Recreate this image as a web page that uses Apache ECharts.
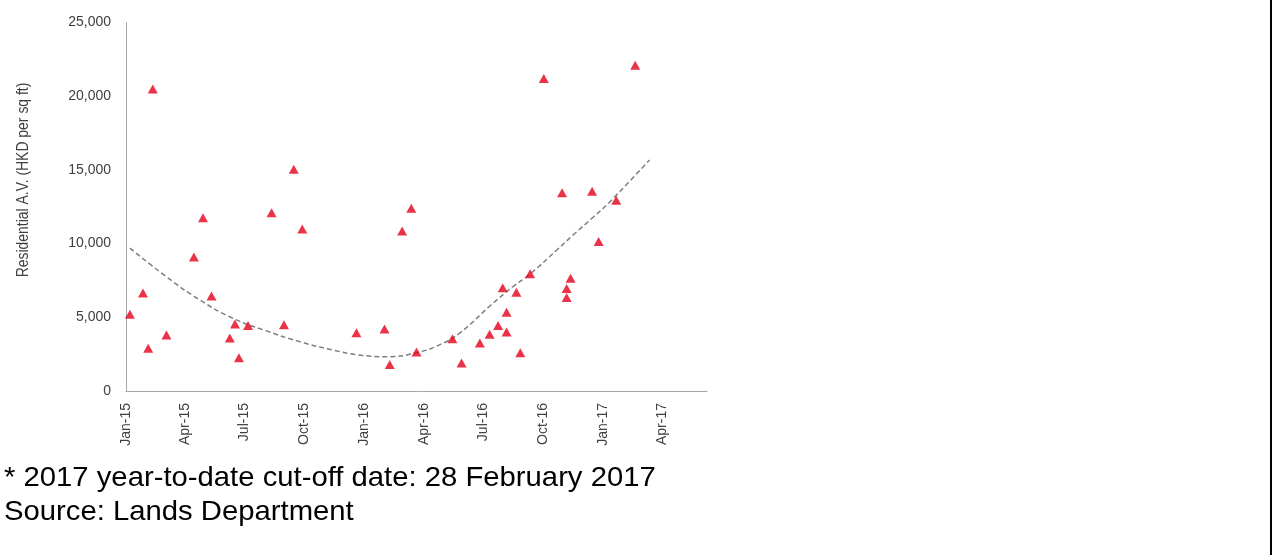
<!DOCTYPE html>
<html>
<head>
<meta charset="utf-8">
<script src="https://cdn.jsdelivr.net/npm/echarts@6/dist/echarts.min.js"></script>
<style>
html,body{margin:0;padding:0;background:#fff;}
#chart{width:1272px;height:555px;}
</style>
</head>
<body>
<div id="chart"></div>
<script>
// ---- data ----
const pointDates = [
  '2015-01-07','2015-01-27','2015-02-04','2015-02-11','2015-03-04','2015-04-15','2015-04-29',
  '2015-05-12','2015-06-09','2015-06-17','2015-06-23','2015-07-07','2015-08-12','2015-08-31',
  '2015-09-15','2015-09-28','2015-12-20','2016-02-01','2016-02-09','2016-02-28','2016-03-13',
  '2016-03-21','2016-05-15','2016-05-29','2016-06-26','2016-07-11','2016-07-24','2016-07-31',
  '2016-08-06','2016-08-06','2016-08-21','2016-08-27','2016-09-11','2016-10-02','2016-10-30',
  '2016-11-06','2016-11-06','2016-11-12','2016-12-15','2016-12-25','2017-01-21','2017-02-19'
];
const pointValues = [
  5200, 6650, 2900, 20500, 3800, 9100, 11750,
  6450, 3600, 4550, 2250, 4450, 12100, 4500,
  15050, 11000, 3950, 4200, 1800, 10850, 12400,
  2650, 3550, 1900, 3250, 3850, 4450, 7000,
  5350, 4000, 6700, 2600, 7950, 21200, 13450,
  6950, 6350, 7650, 13550, 10150, 12950, 22100
];
// dashed trend line at several dates
const trendDates = [
  '2015-01-07','2015-03-04','2015-04-24','2015-06-14','2015-08-04','2015-09-24','2015-11-14',
  '2015-12-23','2016-02-06','2016-03-21','2016-04-26','2016-05-27','2016-07-11','2016-08-16',
  '2016-09-11','2016-10-22','2016-11-16','2016-12-17','2017-01-11','2017-03-13'
];
const trendValues = [
  9700, 7750, 6180, 4930, 4080, 3350, 2780,
  2450, 2330, 2600, 3150, 3960, 5750, 7090,
  7940, 9570, 10590, 11810, 12830, 15680
];
const xTickDates = ['2015-01-01','2015-04-01','2015-07-01','2015-10-01','2016-01-01','2016-04-01',
  '2016-07-01','2016-10-01','2017-01-01','2017-04-01'];
const yTicks = [0, 5000, 10000, 15000, 20000, 25000];
const yTitle = 'Residential A.V. (HKD per sq ft)';
const footLines = ['* 2017 year-to-date cut-off date: 28 February 2017', 'Source: Lands Department'];
const monthNames = ['Jan','Feb','Mar','Apr','May','Jun','Jul','Aug','Sep','Oct','Nov','Dec'];

// ---- build ----
function ts(s){ const p = s.split('-').map(Number); return Date.UTC(p[0], p[1]-1, p[2]); }
const DAY = 86400000;
const xMin = ts('2015-01-01');
const xMax = xMin + 890 * DAY;
const points = pointDates.map((d,i)=>[ts(d), pointValues[i]]);
const trend = trendDates.map((d,i)=>[ts(d), trendValues[i]]);
const labelFont = '"Liberation Sans",Arial,sans-serif';

const chart = echarts.init(document.getElementById('chart'), null, {renderer:'canvas'});
chart.setOption({
  animation:false,
  backgroundColor:'#ffffff',
  grid:{left:126, right:565, top:22.6, bottom:164, containLabel:false},
  xAxis:{
    type:'value', min:xMin, max:xMax,
    splitLine:{show:false},
    axisTick:{show:false},
    axisLine:{show:true, lineStyle:{color:'#a6a6a6', width:1}},
    axisLabel:{
      customValues: xTickDates.map(ts),
      rotate:90, margin:12,
      fontFamily:labelFont, fontSize:14, color:'#404040',
      formatter:function(v){ const d=new Date(v); return monthNames[d.getUTCMonth()]+'-'+String(d.getUTCFullYear()).slice(2); }
    }
  },
  yAxis:{
    type:'value', min:yTicks[0], max:yTicks[yTicks.length-1], interval:yTicks[1]-yTicks[0],
    splitLine:{show:false},
    axisTick:{show:false},
    axisLine:{show:true, lineStyle:{color:'#a6a6a6', width:1}},
    axisLabel:{
      margin:15, fontFamily:labelFont, fontSize:14, color:'#404040',
      formatter:function(v){ return v.toLocaleString('en-US'); }
    }
  },
  series:[
    {
      type:'line', data:trend, smooth:0.5, symbol:'none',
      lineStyle:{color:'#7f7f7f', width:1.5, type:[5,3]},
      z:1, silent:true
    },
    {
      type:'scatter', data:points, symbol:'triangle', symbolSize:[10,9],
      itemStyle:{color:'#e5001a'}, z:2
    }
  ],
  graphic:[
    {type:'text', x:23, y:180, rotation:Math.PI/2, scaleX:0.82,
      style:{text:yTitle, font:'17px '+labelFont, fill:'#404040', align:'center', verticalAlign:'middle'}},
    {type:'text', x:4, y:478, scaleX:1.045,
      style:{text:footLines[0], font:'28px "Liberation Sans",Arial,sans-serif', fill:'#000', align:'left', verticalAlign:'middle'}},
    {type:'text', x:4, y:512, scaleX:1.045,
      style:{text:footLines[1], font:'28px "Liberation Sans",Arial,sans-serif', fill:'#000', align:'left', verticalAlign:'middle'}},
    {type:'rect', shape:{x:1270, y:0, width:2, height:555}, style:{fill:'#000'}}
  ]
});
</script>
</body>
</html>
